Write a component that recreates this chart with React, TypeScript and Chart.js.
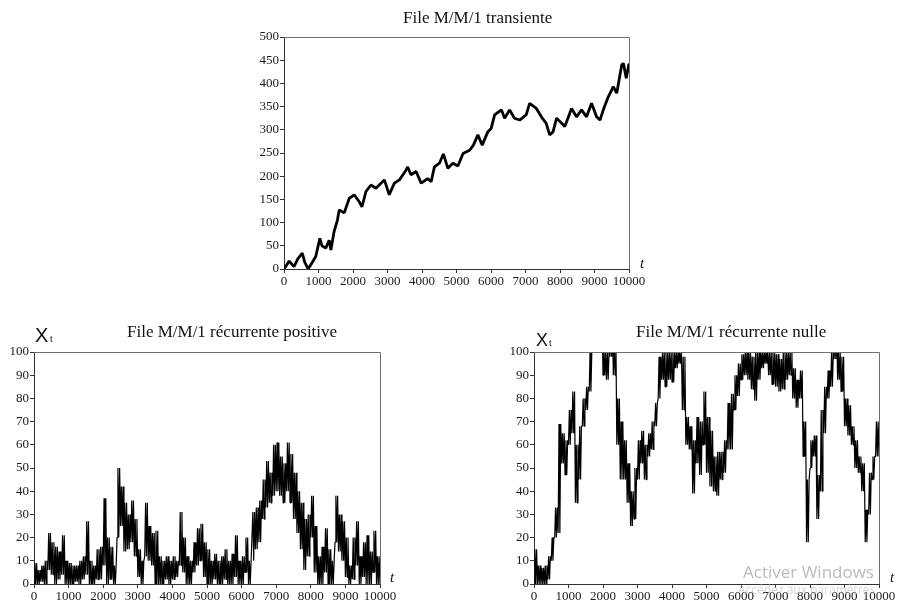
import React, { useEffect, useRef } from "react";
import { Chart, registerables } from "chart.js";

Chart.register(...registerables);

// ---------- DATA ----------
const xTickValues = [0, 1000, 2000, 3000, 4000, 5000, 6000, 7000, 8000, 9000, 10000];
const yTicksTransient = [0, 50, 100, 150, 200, 250, 300, 350, 400, 450, 500];
const yTicksRecurrent = [0, 10, 20, 30, 40, 50, 60, 70, 80, 90, 100];

// File M/M/1 transiente : (t, X_t)
const transT = [0, 150, 290, 400, 530, 600, 700, 800, 920, 1040, 1100, 1210, 1310, 1360, 1450, 1550, 1600, 1745, 1890, 2035, 2180, 2260, 2375, 2520, 2665, 2760, 2910, 3050, 3200, 3345, 3535, 3585, 3680, 3830, 3975, 4165, 4265, 4360, 4505, 4620, 4750, 4893, 5040, 5190, 5380, 5490, 5620, 5745, 5910, 6005, 6105, 6300, 6395, 6540, 6680, 6830, 7020, 7120, 7315, 7460, 7600, 7700, 7800, 7900, 8050, 8140, 8335, 8480, 8625, 8770, 8915, 9060, 9160, 9255, 9400, 9545, 9645, 9790, 9840, 9920, 10000];
const transX = [0, 17, 5, 22, 34, 15, 0, 12, 27, 66, 50, 45, 62, 41, 80, 106, 127, 121, 152, 160, 145, 134, 167, 181, 174, 181, 192, 160, 185, 192, 213, 220, 203, 210, 185, 195, 188, 220, 228, 248, 217, 228, 222, 249, 256, 267, 289, 267, 296, 303, 332, 343, 325, 343, 325, 321, 332, 357, 346, 328, 314, 289, 296, 325, 314, 307, 346, 328, 343, 328, 357, 328, 321, 343, 371, 393, 379, 440, 443, 411, 443];

// Dense traces: per 100-unit interval of t, highest and lowest value of the band
const bandStep = 100;
const posHi = [9, 6, 8, 10, 22, 18, 16, 14, 21, 10, 9, 8, 8, 10, 12, 27, 10, 8, 15, 16, 37, 20, 16, 8, 50, 42, 35, 30, 36, 28, 15, 10, 35, 25, 22, 23, 12, 10, 12, 10, 12, 10, 31, 20, 12, 10, 18, 24, 26, 18, 15, 10, 13, 10, 12, 15, 10, 13, 21, 10, 12, 20, 10, 31, 33, 36, 45, 53, 48, 60, 61, 55, 52, 61, 56, 48, 40, 35, 28, 30, 38, 25, 12, 16, 24, 15, 10, 38, 30, 27, 20, 8, 20, 27, 12, 18, 21, 14, 23, 12];
const posLo = [0, 0, 1, 0, 6, 4, 0, 2, 4, 0, 0, 0, 1, 0, 2, 4, 0, 0, 2, 2, 8, 0, 2, 0, 20, 25, 14, 15, 18, 12, 3, 0, 12, 10, 8, 0, 0, 0, 2, 0, 2, 3, 8, 5, 0, 0, 5, 8, 10, 3, 0, 0, 2, 0, 0, 2, 0, 0, 3, 0, 0, 5, 0, 10, 15, 18, 28, 33, 35, 38, 40, 38, 35, 40, 35, 28, 22, 15, 6, 12, 20, 5, 0, 0, 5, 0, 0, 18, 14, 10, 3, 0, 2, 8, 0, 3, 0, 0, 5, 0];

const nullHi = [15, 8, 7, 8, 12, 20, 33, 69, 65, 62, 75, 83, 60, 68, 80, 85, 100, 115, 120, 115, 100, 100, 110, 105, 80, 70, 62, 52, 40, 50, 62, 66, 60, 65, 70, 78, 98, 100, 100, 100, 100, 100, 100, 98, 72, 68, 62, 72, 70, 83, 72, 66, 55, 57, 57, 62, 78, 82, 90, 95, 99, 100, 100, 98, 100, 100, 100, 100, 100, 100, 99, 97, 100, 100, 100, 93, 88, 92, 70, 45, 62, 64, 47, 75, 85, 92, 100, 110, 100, 98, 80, 77, 68, 62, 55, 52, 32, 48, 55, 70];
const nullLo = [0, 0, 0, 0, 2, 10, 20, 22, 52, 47, 60, 65, 35, 45, 68, 75, 83, 102, 104, 100, 90, 88, 98, 90, 60, 45, 45, 35, 25, 28, 45, 52, 45, 55, 58, 68, 80, 88, 85, 88, 87, 93, 95, 75, 60, 58, 39, 52, 47, 60, 48, 42, 40, 38, 45, 48, 58, 58, 75, 81, 88, 90, 88, 84, 79, 88, 93, 95, 90, 86, 85, 83, 84, 88, 90, 80, 76, 80, 55, 18, 50, 55, 28, 40, 65, 80, 85, 97, 88, 83, 68, 64, 60, 50, 48, 40, 18, 30, 45, 55];

// ---------- HELPERS ----------
const SERIF = "'Liberation Serif', 'Times New Roman', serif";
const SANS = "'Liberation Sans', Arial, sans-serif";

type Pt = { x: number; y: number };

function pairSeries(ts: number[], xs: number[]): Pt[] {
  return ts.map((t, i) => ({ x: t, y: xs[i] }));
}

// the trace swings between the band's low and high twice per interval
function bandSeries(hi: number[], lo: number[]): Pt[] {
  const pts: Pt[] = [];
  const q = bandStep / 4;
  for (let i = 0; i < hi.length; i++) {
    const t0 = i * bandStep;
    pts.push({ x: t0, y: lo[i] });
    pts.push({ x: t0 + q, y: hi[i] });
    pts.push({ x: t0 + 2 * q, y: lo[i] });
    pts.push({ x: t0 + 3 * q, y: hi[i] });
  }
  pts.push({ x: hi.length * bandStep, y: lo[lo.length - 1] });
  return pts;
}

type TextItem = { text: string; x: number; y: number; font: string; color: string };

function decorPlugin(texts: TextItem[]) {
  return {
    id: "decor",
    afterDraw(chart: any) {
      const { ctx, chartArea: a } = chart;
      ctx.save();
      ctx.strokeStyle = "#6e6e6e";
      ctx.lineWidth = 1;
      ctx.beginPath();
      const top = Math.round(a.top) + 0.5;
      const right = Math.round(a.right) + 0.5;
      ctx.moveTo(a.left, top);
      ctx.lineTo(right, top);
      ctx.lineTo(right, a.bottom);
      ctx.stroke();
      ctx.textAlign = "left";
      ctx.textBaseline = "alphabetic";
      for (const t of texts) {
        ctx.font = t.font;
        ctx.fillStyle = t.color;
        ctx.fillText(t.text, t.x, t.y);
      }
      ctx.restore();
    },
  };
}

type Cfg = {
  points: Pt[];
  yTicks: number[];
  lineWidth: number;
  padTop: number;
  padRight: number;
  yWidth: number;
  xHeight: number;
  texts: TextItem[];
};

function buildConfig(p: Cfg): any {
  const tickFont = { family: SERIF, size: 13 };
  const tickColor = "#1a1a1a";
  const yMax = p.yTicks[p.yTicks.length - 1];
  return {
    type: "line",
    data: {
      datasets: [
        {
          data: p.points,
          borderColor: "#000",
          borderWidth: p.lineWidth,
          pointRadius: 0,
          tension: 0,
          fill: false,
          borderJoinStyle: "bevel",
        },
      ],
    },
    options: {
      responsive: false,
      animation: false,
      events: [],
      layout: { padding: { left: 0, top: p.padTop, right: p.padRight, bottom: 0 } },
      plugins: {
        legend: { display: false },
        title: { display: false },
        tooltip: { enabled: false },
      },
      scales: {
        x: {
          type: "linear",
          min: xTickValues[0],
          max: xTickValues[xTickValues.length - 1],
          afterBuildTicks: (s: any) => {
            s.ticks = xTickValues.map((v) => ({ value: v }));
          },
          ticks: {
            autoSkip: false,
            maxRotation: 0,
            font: tickFont,
            color: tickColor,
            padding: 1,
            callback: (v: any) => String(v),
          },
          grid: { display: true, drawOnChartArea: false, drawTicks: true, tickLength: 4, color: "#333" },
          border: { display: true, color: "#333", width: 1 },
          afterFit: (s: any) => {
            s.height = p.xHeight;
            s.paddingLeft = 0;
            s.paddingRight = 0;
          },
        },
        y: {
          type: "linear",
          min: 0,
          max: yMax,
          afterBuildTicks: (s: any) => {
            s.ticks = p.yTicks.map((v) => ({ value: v }));
          },
          ticks: { font: tickFont, color: tickColor, padding: 1, callback: (v: any) => String(v) },
          grid: { display: true, drawOnChartArea: false, drawTicks: true, tickLength: 4, color: "#333" },
          border: { display: true, color: "#333", width: 1 },
          afterFit: (s: any) => {
            s.width = p.yWidth;
            s.paddingTop = 0;
            s.paddingBottom = 0;
          },
        },
      },
    },
    plugins: [decorPlugin(p.texts)],
  };
}

function Panel(props: { left: number; top: number; width: number; height: number; cfg: Cfg }) {
  const ref = useRef<HTMLCanvasElement>(null);
  useEffect(() => {
    if (!ref.current) return;
    const chart = new Chart(ref.current, buildConfig(props.cfg));
    return () => chart.destroy();
  }, []);
  return (
    <canvas
      ref={ref}
      width={props.width}
      height={props.height}
      style={{ position: "absolute", left: props.left, top: props.top, width: props.width, height: props.height }}
    />
  );
}

const titleFont = `17px ${SERIF}`;
const tFont = `italic 15px ${SERIF}`;
const ink = "#111";

const topCfg: Cfg = {
  points: pairSeries(transT, transX),
  yTicks: yTicksTransient,
  lineWidth: 2.8,
  padTop: 37,
  padRight: 31,
  yWidth: 44,
  xHeight: 31,
  texts: [
    { text: "File M/M/1 transiente", x: 163, y: 22.5, font: titleFont, color: ink },
    { text: "t", x: 400, y: 268, font: tFont, color: ink },
  ],
};

const leftCfg: Cfg = {
  points: bandSeries(posHi, posLo),
  yTicks: yTicksRecurrent,
  lineWidth: 1.2,
  padTop: 42,
  padRight: 40,
  yWidth: 34,
  xHeight: 18,
  texts: [
    { text: "File M/M/1 récurrente positive", x: 127, y: 27, font: titleFont, color: ink },
    { text: "X", x: 35, y: 31.5, font: `20px ${SANS}`, color: ink },
    { text: "t", x: 50, y: 31.5, font: `9px ${SANS}`, color: ink },
    { text: "t", x: 390, y: 272, font: tFont, color: ink },
  ],
};

const rightCfg: Cfg = {
  points: bandSeries(nullHi, nullLo),
  yTicks: yTicksRecurrent,
  lineWidth: 1.2,
  padTop: 42,
  padRight: 22,
  yWidth: 44,
  xHeight: 18,
  texts: [
    { text: "File M/M/1 récurrente nulle", x: 146, y: 26.5, font: titleFont, color: ink },
    { text: "X", x: 46, y: 36, font: `18px ${SANS}`, color: ink },
    { text: "t", x: 59, y: 36, font: `9px ${SANS}`, color: ink },
    { text: "t", x: 400, y: 272, font: tFont, color: ink },
    { text: "Activer Windows", x: 253, y: 268, font: `17px 'Open Sans', ${SANS}`, color: "rgba(175,175,175,0.85)" },
    { text: "Accédez aux paramètres", x: 248, y: 284, font: `12px 'Open Sans', ${SANS}`, color: "rgba(185,185,185,0.6)" },
  ],
};

export default function App() {
  return (
    <div style={{ position: "fixed", left: 0, top: 0, width: 901, height: 602, background: "#fff", overflow: "hidden" }}>
      <Panel left={240} top={0} width={420} height={300} cfg={topCfg} />
      <Panel left={0} top={310} width={420} height={292} cfg={leftCfg} />
      <Panel left={490} top={310} width={411} height={292} cfg={rightCfg} />
    </div>
  );
}
